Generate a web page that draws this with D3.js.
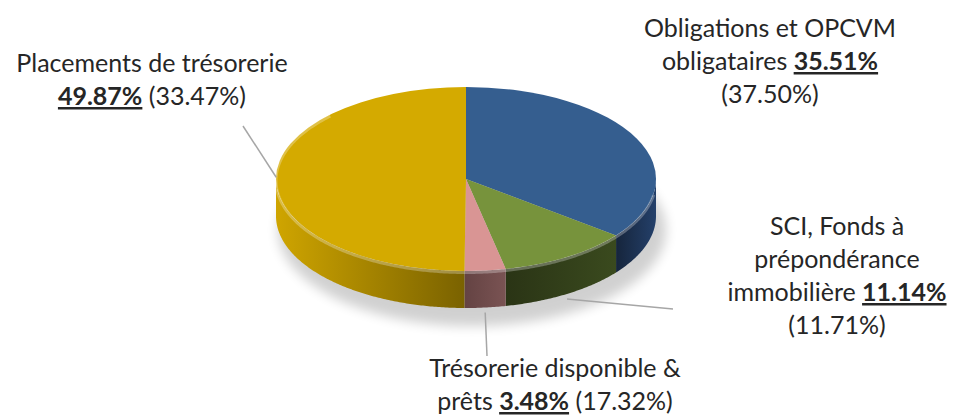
<!DOCTYPE html>
<html>
<head>
<meta charset="utf-8">
<script src="https://d3js.org/d3.v7.min.js"></script>
<style>
  body { margin:0; background:#fff; }
  text { font-family: Lato, "Open Sans", sans-serif; font-size:25px; fill:#262626; }
  .val { font-weight:bold; text-decoration:underline; }
  .leader { fill:none; stroke:#a6a6a6; stroke-width:1.5px; }
</style>
</head>
<body>
<script>
  var width = 955, height = 417;

  // slices, clockwise from 12 o'clock
  var categories = ["Obligations et OPCVM obligataires",
                    "SCI, Fonds à prépondérance immobilière",
                    "Trésorerie disponible & prêts",
                    "Placements de trésorerie"];
  var shares   = [35.51, 11.14, 3.48, 49.87];   // current year
  var previous = [37.50, 11.71, 17.32, 33.47];  // previous year (in brackets)

  var topColors  = ["#355e8f", "#77933c", "#d99594", "#d4aa00"];
  var sideLight  = ["#24406a", "#3a4a1e", "#7a5353", "#cfa500"];
  var sideDark   = ["#16253c", "#2a3415", "#644343", "#7a6200"];

  // label text split on "|": {v} = current share (bold), {p} = previous share
  var labelLines = [
    ["Obligations et OPCVM", "obligataires |{v}|", "({p})"],
    ["SCI, Fonds à", "prépondérance", "immobilière |{v}|", "({p})"],
    ["Trésorerie  disponible &", "prêts |{v}| ({p})"],
    ["Placements de trésorerie", "|{v}| ({p})"]
  ];

  // label layout (centre x, first baseline) and leader end points
  var labelPos = [[770, 37], [837, 235], [555, 377], [152, 72]];
  var leaderEnd = [null, [673, 309], [487, 356], [243, 126]];

  var cx = 466, cy = 179, rx = 190, ry = 92, depth = 37, lineH = 33;

  var svg = d3.select("body").append("svg")
    .attr("width", width)
    .attr("height", height);

  var defs = svg.append("defs");
  defs.append("filter").attr("id", "blur")
    .attr("x", "-20%").attr("y", "-50%").attr("width", "140%").attr("height", "200%")
    .append("feGaussianBlur").attr("stdDeviation", 6);

  var pie = d3.pie().sort(null).value(function(d) { return d; });
  var arcs = pie(shares);

  function pt(a, dy) {
    return [cx + rx * Math.sin(a), cy - ry * Math.cos(a) + (dy || 0)];
  }

  // soft shadow under the pie
  svg.append("ellipse")
    .attr("cx", cx + 6).attr("cy", cy + depth + 14)
    .attr("rx", rx + 4).attr("ry", ry + 4)
    .attr("fill", "#000").attr("opacity", 0.18)
    .attr("filter", "url(#blur)");

  // side walls (front half only)
  arcs.forEach(function(d, i) {
    var s = Math.max(d.startAngle, Math.PI / 2),
        e = Math.min(d.endAngle, 3 * Math.PI / 2);
    if (s >= e) return;
    var a = d3.range(s, e, 0.01).concat([e]);
    var top = a.map(function(t) { return pt(t, 0); });
    var bot = a.slice().reverse().map(function(t) { return pt(t, depth); });

    var x0 = pt(s)[0], x1 = pt(e)[0];
    var gid = "side" + i;
    var g = defs.append("linearGradient").attr("id", gid)
      .attr("gradientUnits", "userSpaceOnUse")
      .attr("x1", Math.min(x0, x1)).attr("x2", Math.max(x0, x1))
      .attr("y1", 0).attr("y2", 0);
    // lighter toward the outer edge of the pie
    var lightLeft = (x0 + x1) / 2 < cx;
    g.append("stop").attr("offset", 0).attr("stop-color", lightLeft ? sideLight[i] : sideDark[i]);
    g.append("stop").attr("offset", 1).attr("stop-color", lightLeft ? sideDark[i] : sideLight[i]);

    svg.append("path")
      .attr("d", d3.line()(top.concat(bot)) + "Z")
      .attr("fill", "url(#" + gid + ")");
  });

  // top faces
  var arc = d3.arc().innerRadius(0).outerRadius(rx);
  svg.append("g")
    .attr("transform", "translate(" + cx + "," + cy + ") scale(1," + (ry / rx) + ")")
    .selectAll("path")
    .data(arcs)
    .enter().append("path")
    .attr("d", arc)
    .attr("fill", function(d, i) { return topColors[i]; });

  // light bevel on the front rim
  var rim = d3.range(Math.PI * 0.55, Math.PI * 1.75, 0.01).map(function(t) { return pt(t, 1.5); });
  svg.append("path")
    .attr("d", d3.line()(rim))
    .attr("fill", "none").attr("stroke", "#fff").attr("stroke-opacity", 0.28)
    .attr("stroke-width", 3);

  // leader lines, from the slice's mid angle to its label
  arcs.forEach(function(d, i) {
    if (!leaderEnd[i]) return;
    var m = (d.startAngle + d.endAngle) / 2;
    var start = (m > Math.PI / 2 && m < 3 * Math.PI / 2) ? pt(m, depth + 5) : pt(m, 0);
    if (i === 3) start = pt(m - 0.05, -6);
    svg.append("path").attr("class", "leader")
      .attr("d", d3.line()([start, leaderEnd[i]]));
  });

  // labels
  function fmt(v) { return v.toFixed(2) + "%"; }
  labelLines.forEach(function(lines, i) {
    lines.forEach(function(line, j) {
      var t = svg.append("text")
        .attr("x", labelPos[i][0])
        .attr("y", labelPos[i][1] + j * lineH)
        .attr("text-anchor", "middle");
      line.split("|").forEach(function(part) {
        if (part === "") return;
        var txt = part.replace("{v}", fmt(shares[i])).replace("{p}", fmt(previous[i]));
        var ts = t.append("tspan").text(txt);
        if (part.indexOf("{v}") >= 0) ts.attr("class", "val");
      });
    });
  });
</script>
</body>
</html>
